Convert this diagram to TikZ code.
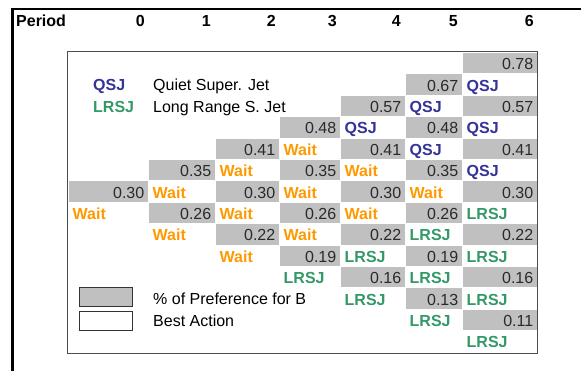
\documentclass[tikz,border=0pt]{standalone}
\usepackage{fontspec}
\setmainfont{Liberation Sans}
\usepackage{xcolor}
\usepackage{tikz}
\usetikzlibrary{positioning}

\definecolor{prefgray}{HTML}{C0C0C0}
\definecolor{qsjblue}{HTML}{333399}
\definecolor{lrsjgreen}{HTML}{339966}
\definecolor{waitorange}{HTML}{FF9900}
\definecolor{valtext}{HTML}{2A2A2A}

\tikzset{
  cell/.style={anchor=north west, inner ysep=2.5pt, text height=15pt, text depth=1.4pt},
  pref/.style={cell, fill=prefgray, draw=white, line width=0.5pt, inner xsep=4pt, align=right, text=valtext},
  act/.style={cell, inner xsep=4.5pt, font=\fontsize{16pt}{19pt}\selectfont\bfseries},
  qsj/.style={act, text=qsjblue},
  lrsj/.style={act, text=lrsjgreen},
  wait/.style={act, text=waitorange},
  w0/.style={text width=72pt}, w1/.style={text width=59pt}, w2/.style={text width=56pt},
  w3/.style={text width=53pt}, w4/.style={text width=57pt}, w5/.style={text width=49pt},
  w6/.style={text width=67pt},
  head/.style={anchor=base east, inner sep=0pt, font=\fontsize{16pt}{19pt}\selectfont\bfseries},
  legbox/.style={draw=black!80, line width=0.9pt, minimum width=53pt, minimum height=19pt, inner sep=0pt, anchor=north west},
  legtext/.style={anchor=base west, inner sep=0pt}
}

\begin{document}
\begin{tikzpicture}[x=1pt, y=-1pt, font=\fontsize{16pt}{19pt}\selectfont]
        \useasboundingbox (0,0) rectangle (581,371);

        % Outer frame
        \draw[line width=2pt] (11,9) -- (581,9);
        \draw[line width=2.5pt] (12.5,8) -- (12.5,371);

        % Period header
        \node[anchor=base west, inner sep=0pt, font=\fontsize{16pt}{19pt}\selectfont\bfseries] (period) at (16,26.7) {Period};
        \node[head] (h0) at (145,26.7) {0};
        \node[head] (h1) at (211,26.7) {1};
        \node[head] (h2) at (276,26.7) {2};
        \node[head] (h3) at (337,26.7) {3};
        \node[head] (h4) at (401,26.7) {4};
        \node[head] (h5) at (458,26.7) {5};
        \node[head] (h6) at (534,26.7) {6};

        % Tree rows
        \node[pref, w6] (p06) at (462,52) {0.78};

        \node[pref, w5] (p15) at (405,73.4) {0.67};
        \node[qsj] (a16) at (462,73.4) {QSJ};

        \node[pref, w4] (p24) at (340,94.8) {0.57};
        \node[qsj] (a25) at (405,94.8) {QSJ};
        \node[pref, w6] (p26) at (462,94.8) {0.57};

        \node[pref, w3] (p33) at (279,116.2) {0.48};
        \node[qsj] (a34) at (340,116.2) {QSJ};
        \node[pref, w5] (p35) at (405,116.2) {0.48};
        \node[qsj] (a36) at (462,116.2) {QSJ};

        \node[pref, w2] (p42) at (215,137.6) {0.41};
        \node[wait] (a43) at (279,137.6) {Wait};
        \node[pref, w4] (p44) at (340,137.6) {0.41};
        \node[qsj] (a45) at (405,137.6) {QSJ};
        \node[pref, w6] (p46) at (462,137.6) {0.41};

        \node[pref, w1] (p51) at (148,159) {0.35};
        \node[wait] (a52) at (215,159) {Wait};
        \node[pref, w3] (p53) at (279,159) {0.35};
        \node[wait] (a54) at (340,159) {Wait};
        \node[pref, w5] (p55) at (405,159) {0.35};
        \node[qsj] (a56) at (462,159) {QSJ};

        \node[pref, w0] (p60) at (68,180.4) {0.30};
        \node[wait] (a61) at (148,180.4) {Wait};
        \node[pref, w2] (p62) at (215,180.4) {0.30};
        \node[wait] (a63) at (279,180.4) {Wait};
        \node[pref, w4] (p64) at (340,180.4) {0.30};
        \node[wait] (a65) at (405,180.4) {Wait};
        \node[pref, w6] (p66) at (462,180.4) {0.30};

        \node[wait] (a70) at (68,201.8) {Wait};
        \node[pref, w1] (p71) at (148,201.8) {0.26};
        \node[wait] (a72) at (215,201.8) {Wait};
        \node[pref, w3] (p73) at (279,201.8) {0.26};
        \node[wait] (a74) at (340,201.8) {Wait};
        \node[pref, w5] (p75) at (405,201.8) {0.26};
        \node[lrsj] (a76) at (462,201.8) {LRSJ};

        \node[wait] (a81) at (148,223.2) {Wait};
        \node[pref, w2] (p82) at (215,223.2) {0.22};
        \node[wait] (a83) at (279,223.2) {Wait};
        \node[pref, w4] (p84) at (340,223.2) {0.22};
        \node[lrsj] (a85) at (405,223.2) {LRSJ};
        \node[pref, w6] (p86) at (462,223.2) {0.22};

        \node[wait] (a92) at (215,244.6) {Wait};
        \node[pref, w3] (p93) at (279,244.6) {0.19};
        \node[lrsj] (a94) at (340,244.6) {LRSJ};
        \node[pref, w5] (p95) at (405,244.6) {0.19};
        \node[lrsj] (a96) at (462,244.6) {LRSJ};

        \node[lrsj] (a103) at (279,266) {LRSJ};
        \node[pref, w4] (p104) at (340,266) {0.16};
        \node[lrsj] (a105) at (405,266) {LRSJ};
        \node[pref, w6] (p106) at (462,266) {0.16};

        \node[lrsj] (a114) at (340,287.4) {LRSJ};
        \node[pref, w5] (p115) at (405,287.4) {0.13};
        \node[lrsj] (a116) at (462,287.4) {LRSJ};

        \node[lrsj] (a125) at (405,308.8) {LRSJ};
        \node[pref, w6] (p126) at (462,308.8) {0.11};

        \node[lrsj] (a136) at (462,330.2) {LRSJ};

        % Legend
        \node[legtext, font=\fontsize{16pt}{19pt}\selectfont\bfseries, text=qsjblue] (legq) at (93,91) {QSJ};
        \node[legtext] (legqtxt) at (153,91) {Quiet Super. Jet};
        \node[legtext, font=\fontsize{16pt}{19pt}\selectfont\bfseries, text=lrsjgreen] (legl) at (93,112.4) {LRSJ};
        \node[legtext] (legltxt) at (153,112.4) {Long Range S. Jet};
        \node[legbox, fill=prefgray] (legpref) at (79,287) {};
        \node[legtext] (legpreftxt) at (153,305) {\% of Preference for B};
        \node[legbox, fill=white] (legbest) at (79,311) {};
        \node[legtext] (legbesttxt) at (153,326.5) {Best Action};

        % Inner frame
        \draw[black!70, line width=1pt] (67.5,52) rectangle (537,353);
    \end{tikzpicture}
\end{document}
